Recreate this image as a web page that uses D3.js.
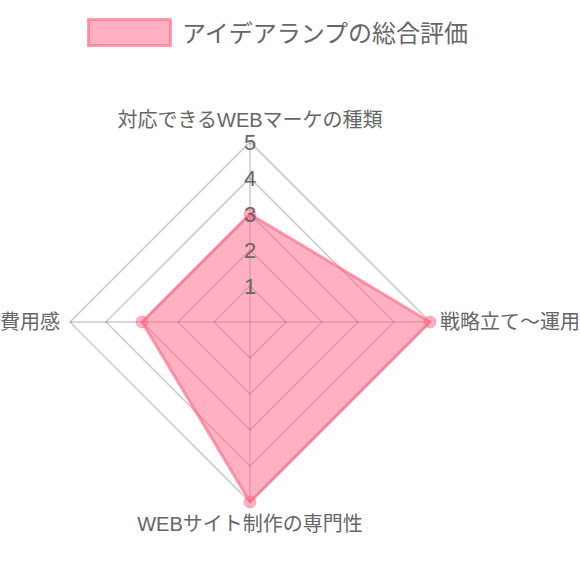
<!DOCTYPE html>
<html>
<head>
<meta charset="utf-8">
<script src="https://cdn.jsdelivr.net/npm/d3@7"></script>
<style>
  body { margin: 0; background: #fff; }
  svg { display: block; font-family: "Liberation Sans", Arial, "Noto Sans CJK JP", sans-serif; }
</style>
</head>
<body>
<svg id="chart" width="580" height="580"></svg>
<script>
const seriesName = "アイデアランプの総合評価";
const axes = ["対応できるWEBマーケの種類", "戦略立て〜運用", "WEBサイト制作の専門性", "費用感"];
const values = [3, 5, 5, 3];
const ticks = [1, 2, 3, 4, 5];

const cx = 250, cy = 322, radius = 180;
const svg = d3.select("#chart");

const r = d3.scaleLinear().domain([0, 5]).range([0, radius]);
const angle = d3.scalePoint().domain(axes).range([0, 2 * Math.PI * (axes.length - 1) / axes.length]);
const pt = (a, v) => [cx + r(v) * Math.sin(angle(a)), cy - r(v) * Math.cos(angle(a))];

// legend
const legend = svg.append("g");
legend.append("rect")
  .attr("x", 88.5).attr("y", 19.5).attr("width", 82).attr("height", 26)
  .attr("fill", "rgba(255,99,132,0.5)")
  .attr("stroke", "rgba(255,99,132,0.6)")
  .attr("stroke-width", 3);
legend.append("text")
  .attr("x", 182).attr("y", 33)
  .attr("dominant-baseline", "central")
  .attr("fill", "#666")
  .style("font-size", "24px")
  .text(seriesName);

// grid
const grid = svg.append("g");
const line = d3.line().curve(d3.curveLinearClosed);
grid.selectAll("path.ring")
  .data(ticks)
  .join("path")
  .attr("class", "ring")
  .attr("d", t => line(axes.map(a => pt(a, t))))
  .attr("fill", "none")
  .attr("stroke", "rgba(0,0,0,0.2)")
  .attr("stroke-width", 1.6);
grid.selectAll("line.spoke")
  .data(axes)
  .join("line")
  .attr("class", "spoke")
  .attr("x1", cx).attr("y1", cy)
  .attr("x2", a => pt(a, 5)[0]).attr("y2", a => pt(a, 5)[1])
  .attr("stroke", "rgba(0,0,0,0.2)")
  .attr("stroke-width", 1.6);

// data
const dataPts = axes.map((a, i) => pt(a, values[i]));
svg.append("path")
  .attr("d", line(dataPts))
  .attr("fill", "rgba(255,99,132,0.5)")
  .attr("stroke", "rgba(255,99,132,0.6)")
  .attr("stroke-width", 3)
  .attr("stroke-linejoin", "round");
svg.selectAll("circle.pt")
  .data(dataPts)
  .join("circle")
  .attr("class", "pt")
  .attr("cx", d => d[0]).attr("cy", d => d[1])
  .attr("r", 6)
  .attr("fill", "rgba(255,99,132,0.5)")
  .attr("stroke", "rgba(255,99,132,0.4)")
  .attr("stroke-width", 1);

// tick labels
svg.selectAll("text.tick")
  .data(ticks)
  .join("text")
  .attr("class", "tick")
  .attr("x", cx).attr("y", t => cy - r(t))
  .attr("text-anchor", "middle")
  .attr("dominant-baseline", "central")
  .attr("fill", "#666")
  .style("font-size", "22px")
  .text(t => t);

// point labels
const labelPos = [
  { x: cx, y: cy - radius - 22, anchor: "middle" },
  { x: cx + radius + 10, y: cy, anchor: "start" },
  { x: cx, y: cy + radius + 22, anchor: "middle" },
  { x: cx - radius - 10, y: cy, anchor: "end" }
];
svg.selectAll("text.axis")
  .data(axes)
  .join("text")
  .attr("class", "axis")
  .attr("x", (d, i) => labelPos[i].x)
  .attr("y", (d, i) => labelPos[i].y)
  .attr("text-anchor", (d, i) => labelPos[i].anchor)
  .attr("dominant-baseline", "central")
  .attr("fill", "#666")
  .style("font-size", "20px")
  .text(d => d);
</script>
</body>
</html>
